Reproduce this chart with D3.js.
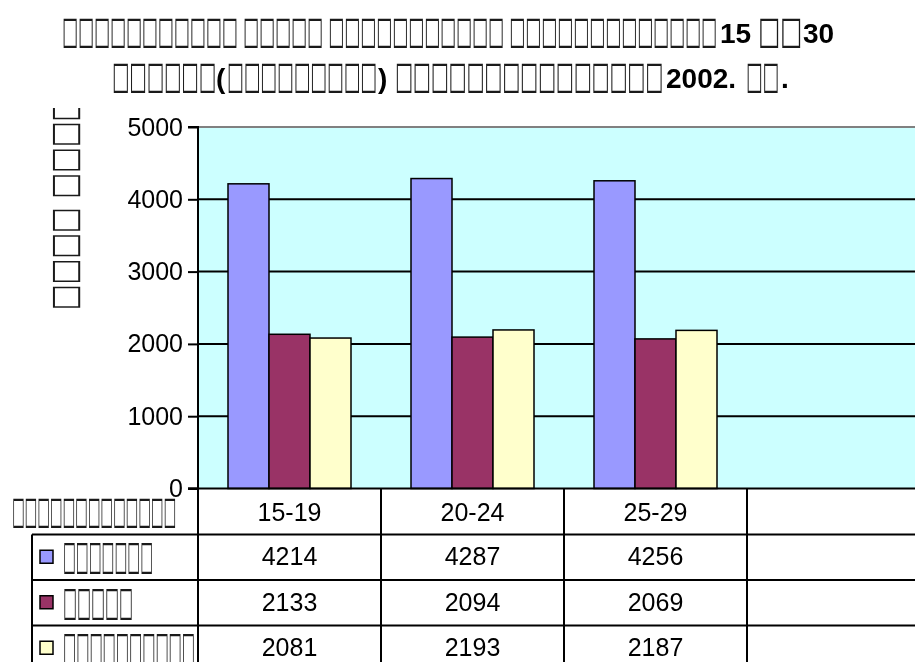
<!DOCTYPE html>
<html>
<head>
<meta charset="utf-8">
<script src="https://cdn.jsdelivr.net/npm/d3@7"></script>
<style>
  body { margin: 0; background: #fff; }
  #chart { will-change: transform; }
  svg { font-family: "Liberation Sans", Arial, sans-serif; }
  .box { font-family: "DejaVu Sans", sans-serif; font-weight: normal; fill: #1a1a1a; }
</style>
</head>
<body>
<div id="chart"></div>
<script>
// values (the source's own letters render as empty boxes)
const categories = ["15-19", "20-24", "25-29", ""];
const seriesNames = ["□□□□□□□", "□□□□□", "□□□□□□□□□□"];
const totalVals = [4214, 4287, 4256];
const maleVals = [2133, 2094, 2069];
const femaleVals = [2081, 2193, 2187];
const yTicks = [0, 1000, 2000, 3000, 4000, 5000];
const tableHead = "□□□□□□□□□□□□□";
const yTitle = "□□□□ □□□□□";

const colors = ["#9999ff", "#993366", "#ffffcc"];
const seriesVals = [totalVals, maleVals, femaleVals];

let width = 915, height = 662;

let svg = d3.select("#chart").append("svg")
  .attr("width", width)
  .attr("height", height);

let x = d3.scaleBand()
  .domain(categories)
  .range([198, 198 + 4 * 183])
  .padding(0);

let x1 = d3.scaleBand()
  .domain(d3.range(seriesNames.length))
  .range([30, 153]);

let y = d3.scaleLinear()
  .domain([0, 5000])
  .range([488.5, 127]);

let rows = d3.scaleBand()
  .domain(["head", 0, 1, 2])
  .range([489, 489 + 4 * 45.5]);

// plot area
svg.append("rect")
  .attr("x", x.range()[0]).attr("y", y(5000))
  .attr("width", x.range()[1] - x.range()[0])
  .attr("height", y(0) - y(5000))
  .attr("fill", "#ccffff");

// gridlines
svg.append("g").selectAll("line")
  .data(yTicks.filter(d => d > 0))
  .enter().append("line")
    .attr("x1", x.range()[0]).attr("x2", x.range()[1])
    .attr("y1", d => y(d)).attr("y2", d => y(d))
    .attr("stroke", d => d == 5000 ? "#808080" : "#000")
    .attr("stroke-width", 2);

// bars
let bars = [];
categories.forEach((c, i) => {
  seriesVals.forEach((vals, s) => {
    if (vals[i] != null) bars.push({cat: c, s: s, v: vals[i]});
  });
});

svg.append("g").selectAll("rect")
  .data(bars)
  .enter().append("rect")
    .attr("x", d => x(d.cat) + x1(d.s))
    .attr("y", d => y(d.v))
    .attr("width", x1.bandwidth())
    .attr("height", d => y(0) - y(d.v))
    .attr("fill", d => colors[d.s])
    .attr("stroke", "#000")
    .attr("stroke-width", 1.5);

// y axis
let axeY = d3.axisLeft(y).tickValues(yTicks).tickSize(10).tickPadding(5).tickFormat(d3.format("d"));
let gy = svg.append("g")
  .attr("transform", `translate(${x.range()[0]},0)`)
  .call(axeY);
gy.select(".domain").attr("stroke-width", 2).attr("d", `M-10,${y(5000)}H0V${y(0)}H-10`);
gy.selectAll(".tick line").attr("stroke-width", 2);
gy.selectAll(".tick text")
  .attr("font-size", 25)
  .attr("font-family", "Liberation Sans, Arial, sans-serif")
  .attr("fill", "#000");

// category axis line
svg.append("line")
  .attr("x1", x.range()[0] - 10).attr("x2", x.range()[1])
  .attr("y1", y(0)).attr("y2", y(0))
  .attr("stroke", "#000").attr("stroke-width", 2);

// data table
let tbl = svg.append("g");
let rowTop = rows("head");
let tblBottom = rows.range()[1];

tbl.selectAll("line.v")
  .data(categories)
  .enter().append("line")
    .attr("class", "v")
    .attr("x1", d => x(d)).attr("x2", d => x(d))
    .attr("y1", rowTop).attr("y2", tblBottom)
    .attr("stroke", "#000").attr("stroke-width", 2);

tbl.selectAll("line.h")
  .data([0, 1, 2])
  .enter().append("line")
    .attr("class", "h")
    .attr("x1", 32).attr("x2", x.range()[1])
    .attr("y1", d => rows(d)).attr("y2", d => rows(d))
    .attr("stroke", "#000").attr("stroke-width", 2);

tbl.append("line")
  .attr("x1", 32).attr("x2", 32)
  .attr("y1", rows(0)).attr("y2", tblBottom)
  .attr("stroke", "#000").attr("stroke-width", 2);

// category labels
tbl.selectAll("text.cat")
  .data(categories)
  .enter().append("text")
    .attr("class", "cat")
    .attr("x", d => x(d) + x.bandwidth() / 2)
    .attr("y", rowTop + rows.bandwidth() / 2 + 9)
    .attr("text-anchor", "middle")
    .attr("font-size", 25)
    .text(d => d);

// values
seriesVals.forEach((vals, s) => {
  tbl.append("g").selectAll("text")
    .data(vals)
    .enter().append("text")
      .attr("x", (d, i) => x(categories[i]) + x.bandwidth() / 2)
      .attr("y", rows(s) + rows.bandwidth() / 2 + 8)
      .attr("text-anchor", "middle")
      .attr("font-size", 25)
      .text(d => d);
});

// legend keys and series names
let legendLen = [90, 70, 132];
seriesNames.forEach((n, s) => {
  let cy = rows(s) + rows.bandwidth() / 2;
  tbl.append("rect")
    .attr("x", 40).attr("y", cy - 7)
    .attr("width", 13).attr("height", 13)
    .attr("fill", colors[s])
    .attr("stroke", "#000").attr("stroke-width", 1.5);
  tbl.append("text")
    .attr("class", "box")
    .attr("x", 63).attr("y", cy + 12)
    .attr("font-size", 40)
    .attr("textLength", legendLen[s])
    .attr("lengthAdjust", "spacingAndGlyphs")
    .text(n);
});

tbl.append("text")
  .attr("class", "box")
  .attr("x", 12).attr("y", rowTop + rows.bandwidth() / 2 + 11)
  .attr("font-size", 38)
  .attr("textLength", 164)
  .attr("lengthAdjust", "spacingAndGlyphs")
  .text(tableHead);

// y axis title (rotated, clipped at top)
svg.append("clipPath").attr("id", "ytclip")
  .append("rect").attr("x", 0).attr("y", 108).attr("width", 120).attr("height", 300);

svg.append("g").attr("clip-path", "url(#ytclip)")
  .append("text")
    .attr("class", "box")
    .attr("transform", "translate(76,310) rotate(-90)")
    .attr("font-size", 36)
    .attr("textLength", 240)
    .attr("lengthAdjust", "spacingAndGlyphs")
    .text(yTitle);

// title
let title = svg.append("g").attr("font-weight", "bold").attr("font-size", 28);
let titleParts = [
  {t: "□□□□□□□□□□□ □□□□□ □□□□□□□□□□□ □□□□□□□□□□□□□", x: 62, y: 43, len: 655, box: true},
  {t: "15", x: 720, y: 43},
  {t: "□□", x: 758, y: 43, len: 44, box: true},
  {t: "30", x: 803, y: 43},
  {t: "□□□□□□", x: 112, y: 88, len: 104, box: true},
  {t: "(", x: 216, y: 88},
  {t: "□□□□□□□□□", x: 227, y: 88, len: 150, box: true},
  {t: ")", x: 378, y: 88},
  {t: "□□□□□□□□□□□□□□□", x: 395, y: 88, len: 268, box: true},
  {t: "2002.", x: 666, y: 88},
  {t: "□□", x: 746, y: 88, len: 33, box: true},
  {t: ".", x: 781, y: 88}
];
titleParts.forEach(p => {
  let t = title.append("text").attr("x", p.x).attr("y", p.y).text(p.t);
  if (p.box) {
    t.attr("class", "box")
      .attr("font-size", 38)
      .attr("textLength", p.len)
      .attr("lengthAdjust", "spacingAndGlyphs");
  }
});
</script>
</body>
</html>
